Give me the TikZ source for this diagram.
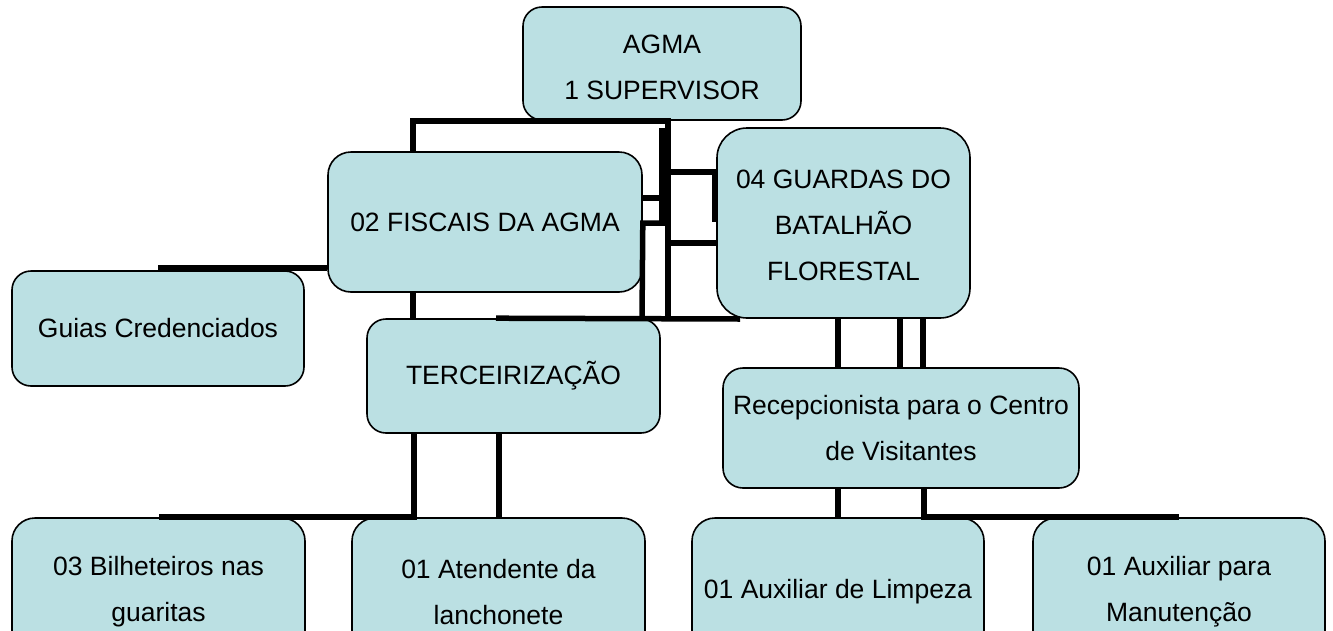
\documentclass[tikz,border=0pt]{standalone}
\usepackage{fontspec}
\setmainfont{Liberation Sans}
\definecolor{boxfill}{RGB}{187,224,227}
\newcommand{\up}[1]{\rule{0pt}{#1pt}}
\begin{document}
\begin{tikzpicture}[x=1pt,y=-1pt,
  box/.style={draw=black, line width=1.6pt, fill=boxfill, align=center,
    inner sep=0pt, font=\fontsize{26.5}{46}\selectfont},
  conn/.style={draw=black, line width=5.5pt, line join=miter}]
\useasboundingbox (0,0) rectangle (1333,630);
\clip (0,0) rectangle (1333,630);
% boxes
\node[box, minimum width=278pt, minimum height=113pt, rounded corners=19pt] (agma) at (662,63.5) {\up{27}AGMA\\1 SUPERVISOR};
\node[box, minimum width=314pt, minimum height=140pt, rounded corners=23pt] (fis) at (485,222) {02 FISCAIS DA AGMA};
\node[box, minimum width=253pt, minimum height=190pt, rounded corners=30pt] (grd) at (843.5,223) {\up{23}04 GUARDAS DO\\BATALHÃO\\FLORESTAL};
\node[box, minimum width=292pt, minimum height=115pt, rounded corners=19pt] (guias) at (158,328.5) {Guias Credenciados};
\node[box, minimum width=293pt, minimum height=114pt, rounded corners=19pt] (terc) at (513.5,376) {TERCEIRIZAÇÃO};
\node[box, minimum width=356pt, minimum height=120pt, rounded corners=20pt] (rec) at (901,428) {Recepcionista para o Centro\\de Visitantes};
\node[box, minimum width=293pt, minimum height=140pt, rounded corners=23pt] (bil) at (158.5,588) {\up{27}03 Bilheteiros nas\\guaritas};
\node[box, minimum width=293pt, minimum height=140pt, rounded corners=23pt] (ate) at (498.5,588) {\up{27}01 Atendente da\\lanchonete};
\node[box, minimum width=292pt, minimum height=140pt, rounded corners=23pt] (lim) at (838,588) {\up{27}01 Auxiliar de Limpeza};
\node[box, minimum width=292pt, minimum height=140pt, rounded corners=23pt] (man) at (1179,588) {\up{27}01 Auxiliar para\\Manutenção};
% connectors
\draw[conn] (fis.north -| 413,0) |- (668,121) -- (668,320);
\draw[conn] (662,128) -- (662,222);
\draw[conn] (fis.east |- 0,198) -- (662,198);
\draw[conn] (668,223) -- (fis.east |- 0,223) -- (642,319);
\draw[conn] (terc.north -| 496,0) -- (740,319);
\draw[conn] (158,268) -- (fis.west |- 0,268);
\draw[conn] (fis.south -| 413,0) -- (terc.north -| 413,0);
\draw[conn] (668,172) -- (grd.west |- 0,172);
\draw[conn] (715,172) -- (715,222);
\draw[conn] (668,243) -- (grd.west |- 0,243);
\draw[conn] (grd.south -| 838,0) -- (rec.north -| 838,0);
\draw[conn] (grd.south -| 900,0) -- (rec.north -| 900,0);
\draw[conn] (grd.south -| 923,0) -- (rec.north -| 923,0);
\draw[conn] (terc.south -| 414,0) |- (bil.north);
\draw[conn] (terc.south -| 499,0) -- (ate.north -| 499,0);
\draw[conn] (rec.south -| 838,0) -- (lim.north);
\draw[conn] (rec.south -| 924,0) |- (man.north);
\end{tikzpicture}
\end{document}
